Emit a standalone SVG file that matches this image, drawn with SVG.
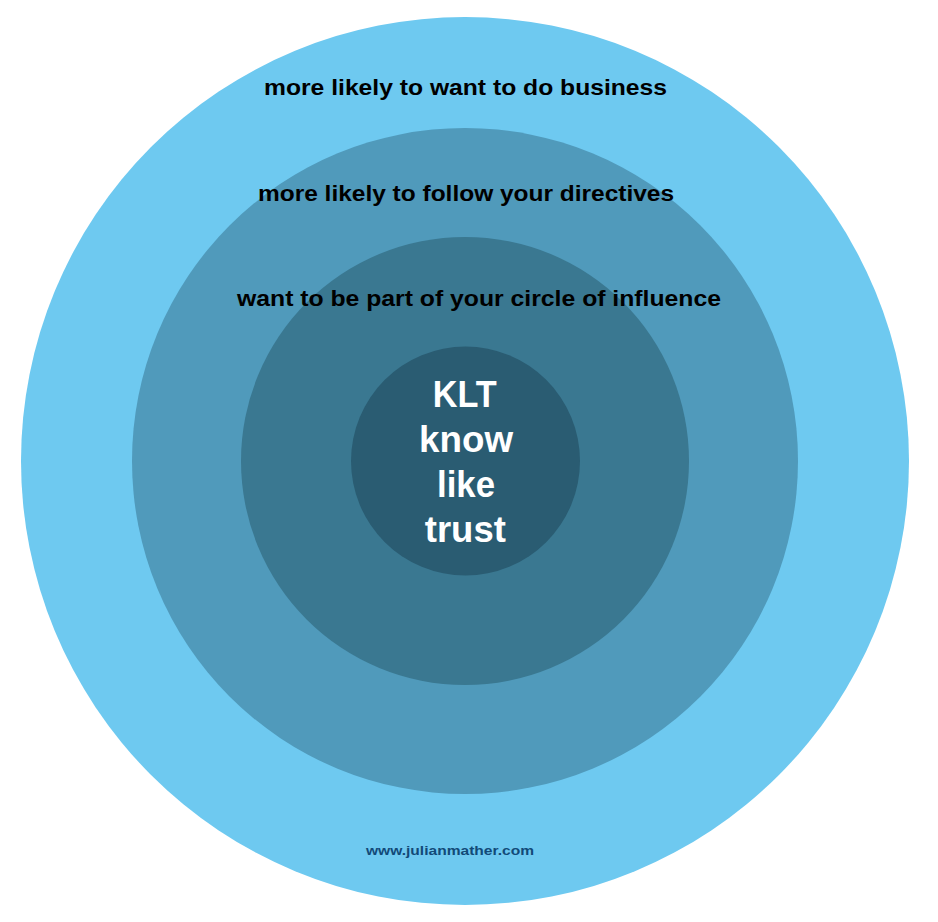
<svg xmlns="http://www.w3.org/2000/svg" width="938" height="922" viewBox="0 0 938 922">
<style>
.lbl{font-family:"Liberation Sans",Arial,sans-serif;font-weight:bold;font-size:22px;fill:#000;text-anchor:middle}
.core{font-family:"Liberation Sans",Arial,sans-serif;font-weight:bold;font-size:36px;fill:#fff;text-anchor:middle}
.url{font-family:"Liberation Sans",Arial,sans-serif;font-weight:bold;font-size:13.5px;fill:#124a78;text-anchor:middle}
</style>
<rect width="938" height="922" fill="#fff"/>
<g id="ring-business">
<circle cx="465" cy="461" r="444" fill="#6ec9f0"/>
<text class="lbl" x="465.5" y="95" textLength="403" lengthAdjust="spacingAndGlyphs">more likely to want to do business</text>
</g>
<g id="ring-directives">
<circle cx="465" cy="461" r="333" fill="#509abb"/>
<text class="lbl" x="466" y="201" textLength="416" lengthAdjust="spacingAndGlyphs">more likely to follow your directives</text>
</g>
<g id="ring-influence">
<circle cx="465" cy="461" r="224" fill="#3a7891"/>
<text class="lbl" x="479" y="306" textLength="484" lengthAdjust="spacingAndGlyphs">want to be part of your circle of influence</text>
</g>
<g id="core-klt">
<circle cx="465.5" cy="461" r="114.5" fill="#2a5c72"/>
<text class="core" x="464.7" y="407" textLength="64" lengthAdjust="spacingAndGlyphs">KLT</text>
<text class="core" x="466" y="452" textLength="94" lengthAdjust="spacingAndGlyphs">know</text>
<text class="core" x="466" y="497" textLength="58" lengthAdjust="spacingAndGlyphs">like</text>
<text class="core" x="465.3" y="542" textLength="81" lengthAdjust="spacingAndGlyphs">trust</text>
</g>
<g id="footer">
<text class="url" x="450" y="855" textLength="168" lengthAdjust="spacingAndGlyphs">www.julianmather.com</text>
</g>
<g id="connectors"/>
</svg>
